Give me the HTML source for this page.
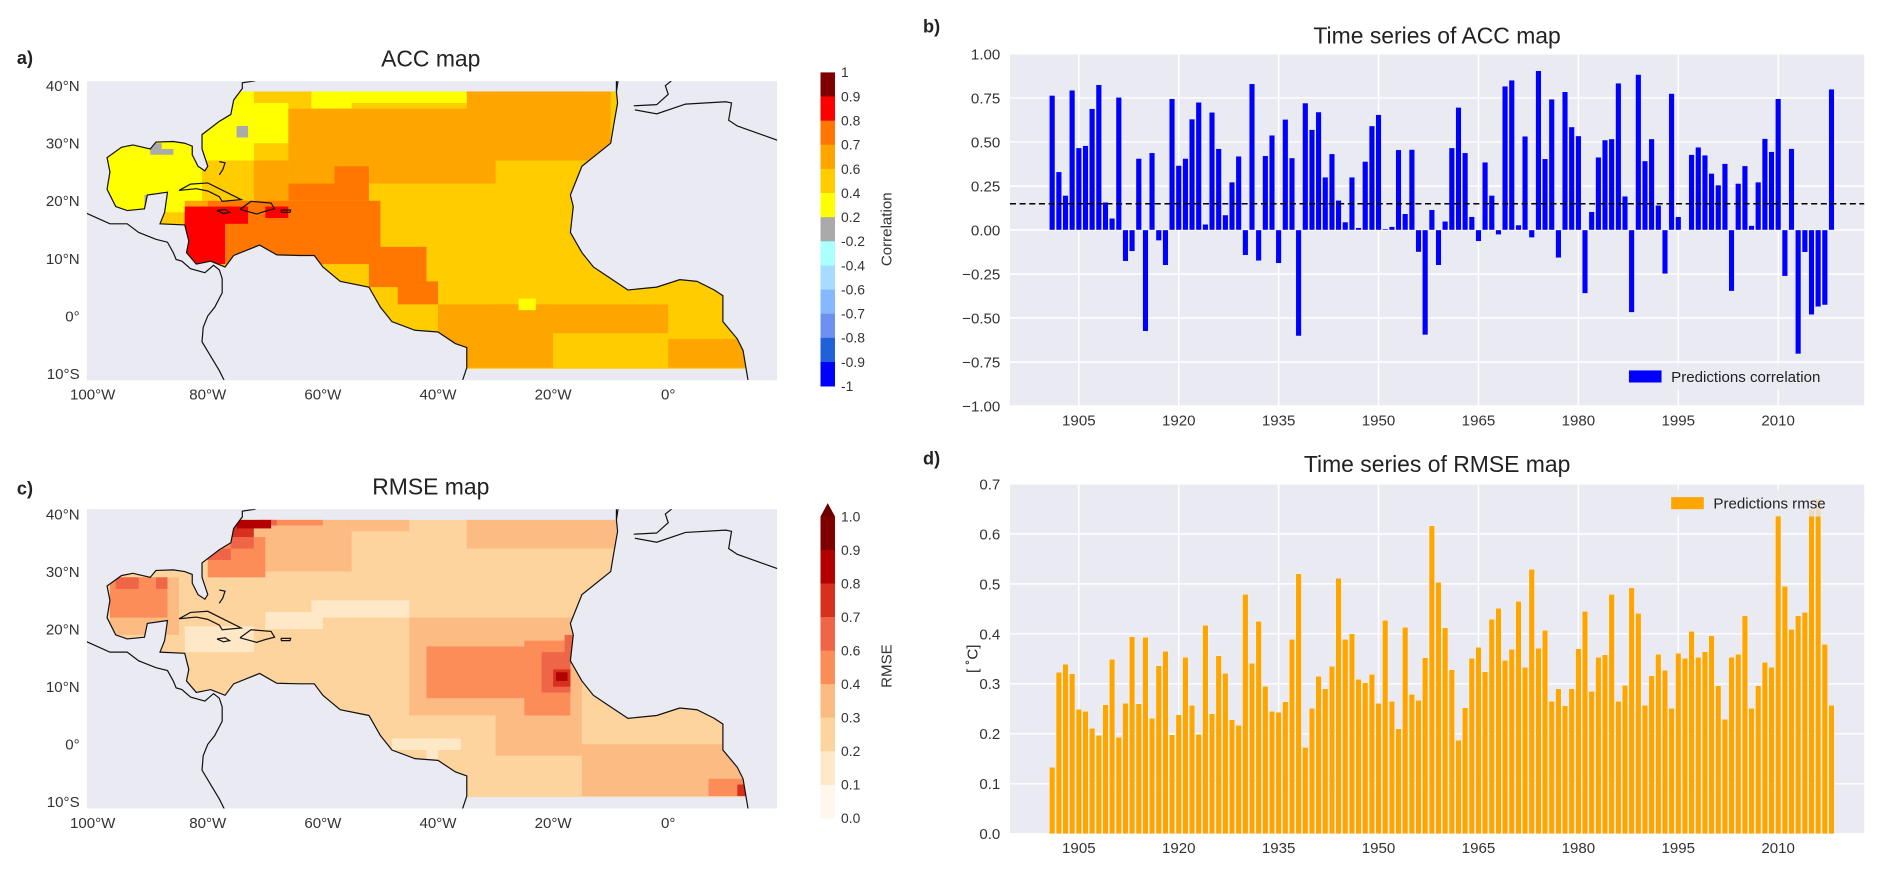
<!DOCTYPE html>
<html><head><meta charset="utf-8"><style>
html,body{margin:0;padding:0;background:#fff;}
svg{display:block;font-family:"Liberation Sans",sans-serif;}
</style></head><body>
<svg id="fig" width="1892" height="873" viewBox="0 0 1568 723.5" preserveAspectRatio="none" xmlns="http://www.w3.org/2000/svg">
<defs>
<clipPath id="clipA"><rect x="72" y="67.2" width="572" height="247.6"/></clipPath>
<clipPath id="clipC"><rect x="72" y="422" width="572" height="248"/></clipPath>
</defs>
<g id="mapA"></g>
<g id="mapC"></g>
<g id="chartB"></g>
<g id="chartD"></g>
<text x="14" y="53" font-size="15" font-weight="bold" fill="#222">a)</text>
<text x="765" y="27" font-size="15" font-weight="bold" fill="#222">b)</text>
<text x="14" y="410" font-size="15" font-weight="bold" fill="#222">c)</text>
<text x="765" y="385" font-size="15" font-weight="bold" fill="#222">d)</text>
<text x="357" y="55" font-size="19" text-anchor="middle" fill="#222">ACC map</text>
<text x="357" y="410" font-size="19" text-anchor="middle" fill="#222">RMSE map</text>
<text x="1191" y="36" font-size="19" text-anchor="middle" fill="#222">Time series of ACC map</text>
<text x="1191" y="391" font-size="19" text-anchor="middle" fill="#222">Time series of RMSE map</text>
</svg>
<script>
// ---------- chart data ----------
const startYear = 1901;
const accValues = [0.764,0.33,0.196,0.794,0.466,0.479,0.689,0.825,0.157,0.066,
0.753,-0.177,-0.121,0.406,-0.575,0.438,-0.06,-0.2,0.745,0.366,
0.406,0.63,0.725,0.032,0.668,0.462,0.085,0.272,0.419,-0.143,
0.83,-0.175,0.421,0.538,-0.189,0.628,0.409,-0.602,0.721,0.57,
0.67,0.3,0.432,0.168,0.045,0.3,0.013,0.389,0.591,0.655,
0.006,0.019,0.455,0.092,0.457,-0.125,-0.596,0.115,-0.2,0.049,
0.466,0.696,0.438,0.075,-0.064,0.385,0.196,-0.026,0.817,0.851,
0.028,0.532,-0.043,0.904,0.404,0.743,-0.158,0.785,0.585,0.534,
-0.36,0.104,0.413,0.511,0.517,0.834,0.192,-0.468,0.883,0.392,
0.517,0.14,-0.249,0.775,0.075,-0.002,0.428,0.47,0.425,0.321,
0.255,0.377,-0.347,0.264,0.364,0.025,0.272,0.519,0.445,0.745,
-0.262,0.462,-0.704,-0.126,-0.481,-0.436,-0.426,0.8];
const accThreshold = 0.149;
const rmseValues = [0.133,0.323,0.339,0.32,0.249,0.245,0.211,0.197,0.258,0.349,
0.193,0.261,0.394,0.26,0.393,0.231,0.336,0.365,0.198,0.238,
0.353,0.257,0.199,0.417,0.24,0.356,0.321,0.228,0.217,0.479,
0.341,0.425,0.295,0.245,0.243,0.264,0.389,0.52,0.173,0.251,
0.315,0.29,0.335,0.511,0.389,0.4,0.309,0.302,0.319,0.261,
0.427,0.265,0.21,0.413,0.279,0.267,0.352,0.616,0.503,0.412,
0.328,0.187,0.252,0.351,0.373,0.324,0.429,0.451,0.347,0.369,
0.465,0.333,0.529,0.371,0.407,0.265,0.29,0.256,0.29,0.37,
0.445,0.285,0.353,0.358,0.479,0.265,0.297,0.492,0.441,0.257,
0.316,0.359,0.327,0.251,0.361,0.351,0.405,0.353,0.364,0.396,
0.296,0.229,0.353,0.359,0.436,0.251,0.296,0.343,0.333,0.637,
0.495,0.409,0.436,0.443,0.649,0.67,0.379,0.257];
const yearTicks = [1905,1920,1935,1950,1965,1980,1995,2010];
const accTicks = [1.0,0.75,0.5,0.25,0.0,-0.25,-0.5,-0.75,-1.0];
const accTickLabels = ["1.00","0.75","0.50","0.25","0.00","\u22120.25","\u22120.50","\u22120.75","\u22121.00"];
const rmseTicks = [0,0.1,0.2,0.3,0.4,0.5,0.6,0.7];
const rmseTickLabels = ["0.0","0.1","0.2","0.3","0.4","0.5","0.6","0.7"];
const accCbarLabels = ["1","0.9","0.8","0.7","0.6","0.4","0.2","-0.2","-0.4","-0.6","-0.7","-0.8","-0.9","-1"];
const accCbarColors = ["#7f0000","#ff0000","#ff7700","#ffa500","#ffcc00","#ffff00","#aaaaaa","#aaffff","#a6dcff","#86b8ff","#6e90f0","#2060d8","#0000ff"];
const rmseCbarLabels = ["1.0","0.9","0.8","0.7","0.6","0.4","0.3","0.2","0.1","0.0"];
const rmseCbarColors = ["#7f0000","#b30000","#d7301f","#ef6548","#fc8d59","#fdbb84","#fdd49e","#fee8c8","#fff7ec"];

const NS="http://www.w3.org/2000/svg";
function mk(tag, attrs, parent){const e=document.createElementNS(NS,tag);for(const k in attrs)e.setAttribute(k,attrs[k]);parent.appendChild(e);return e;}

// ---------- bar charts ----------
const X0=837, X1=1545;
function xYear(y){return 872+(y-startYear)*5.52;}
function drawChart(g, top, bottom, ymin, ymax, vals, color, ticks, tickLabels, legendText, legendPos){
  const yS=v=>bottom-(v-ymin)/(ymax-ymin)*(bottom-top);
  const bg=mk('rect',{x:X0,y:top,width:X1-X0,height:bottom-top,fill:'#eaeaf2'},g);
  
  
  ticks.forEach((t,i)=>{
    const l=mk('line',{x1:X0,x2:X1,y1:yS(t),y2:yS(t),stroke:'#fff','stroke-width':1.2},g);
    
    
    const tx=mk('text',{x:X0-8,y:yS(t)+4.5,'font-size':12.5,'text-anchor':'end',fill:'#333'},g);
    tx.textContent=tickLabels[i];
    
    
  });
  yearTicks.forEach(yr=>{
    const l=mk('line',{x1:xYear(yr),x2:xYear(yr),y1:top,y2:bottom,stroke:'#fff','stroke-width':1.2},g);
    
    
    const tx=mk('text',{x:xYear(yr),y:bottom+16,'font-size':12.5,'text-anchor':'middle',fill:'#333'},g);
    tx.textContent=String(yr);
    
    
  });
  const y0=yS(Math.max(0,ymin));
  vals.forEach((v,i)=>{
    const x=xYear(startYear+i);
    const r=mk('rect',{x:x-2.3,y:Math.min(y0,yS(v)),width:4.6,height:Math.abs(yS(v)-y0),fill:color,stroke:'#fff','stroke-width':0.3},g);
    
    
  });
  // legend
  const lg=mk('g',{},g);
  
  
  mk('rect',{x:legendPos[0],y:legendPos[1],width:legendPos[2],height:22,fill:'#eaeaf2','fill-opacity':0.8,rx:3},lg);
  mk('rect',{x:legendPos[0]+7,y:legendPos[1]+6,width:27,height:10,fill:color},lg);
  const lt=mk('text',{x:legendPos[0]+42,y:legendPos[1]+15.5,'font-size':12.5,fill:'#222'},lg);
  lt.textContent=legendText;
  return yS;
}
const gB=document.getElementById('chartB');
const yB=drawChart(gB,44.7,336.5,-1,1,accValues,'#0000ff',accTicks,accTickLabels,'Predictions correlation',[1343,301,200]);
const th=mk('line',{x1:X0,x2:X1,y1:yB(accThreshold),y2:yB(accThreshold),stroke:'#000','stroke-width':1.3,'stroke-dasharray':'5,3'},gB);


const gD=document.getElementById('chartD');
drawChart(gD,401,691,0,0.7,rmseValues,'#ffa500',rmseTicks,rmseTickLabels,'Predictions rmse',[1378,406,167]);
const yl=mk('text',{x:0,y:0,'font-size':12.5,fill:'#222','text-anchor':'middle',transform:'translate(810,546) rotate(-90)'},gD);
yl.textContent='[ \u02daC]';



// ---------- maps ----------
const ocean=[[-97.5,27.5],[-97,25],[-97.5,22],[-96,19],[-94,18.3],[-91,18.6],[-90.5,21],[-87,21.5],[-87.5,18],[-88.3,16],[-84,15.8],[-83.3,13],[-83.7,11],[-82,9],[-79.5,9.5],[-77,8.5],[-75.5,10.5],[-73,11.5],[-71,12.3],[-68,10.6],[-64,10.5],[-61.5,10.5],[-60,8.5],[-57,6],[-52,5],[-50,1.5],[-48,-1],[-44,-2.5],[-40,-2.8],[-37,-4.8],[-35,-5.5],[-35,-9],[-36,-12],[14,-12],[13,-6],[12,-4],[9.5,-1],[9.5,3.5],[8,4.5],[5,6],[2,6.3],[-2,5],[-7,4.5],[-10,6.5],[-13,8.5],[-15,11],[-17,14.5],[-16.5,19],[-17,21],[-15,26],[-10,30],[-9.5,33],[-8.8,37],[-9,39],[-9,42],[-70,42],[-70,41.5],[-72,40.8],[-74,40.5],[-74,39.5],[-75.5,37.5],[-76,35],[-78,33.8],[-81,31.5],[-81,29],[-80,26],[-80.5,25.2],[-81.7,26],[-82.7,28],[-82.7,29.5],[-84,30],[-86,30.3],[-89,30.2],[-90,29],[-93,29.7],[-95,29.3]];
const extraCoasts=[
[[-101,17.8],[-97,16],[-94,16],[-92,14.5],[-89,13.3],[-87,12.8],[-86,11],[-85.5,9.8],[-84.5,9.5],[-83,8.2],[-80.5,7.5],[-79,8.8],[-78,8],[-77.5,6.5],[-77.5,4],[-78.8,1.5],[-80,0],[-80.8,-2],[-81,-4.5],[-79.5,-7],[-78,-9.5],[-77,-11.5]],
[[-72,40.8],[-70,41.7],[-70,43]],
[[-85,21.8],[-83,22.9],[-80,23.1],[-77,21.6],[-74.2,20.2],[-77.5,19.9],[-78,20.7],[-80,21.7],[-82,22.1],[-85,21.8]],
[[-74.4,18.5],[-72.5,19.9],[-69,19.6],[-68.4,18.6],[-70,18.2],[-71.5,17.7],[-74.4,18.5]],
[[-78.4,18.3],[-77,18.5],[-76.2,18],[-77.3,17.8],[-78.4,18.3]],
[[-67.3,18.4],[-65.6,18.4],[-65.7,18],[-67.2,18],[-67.3,18.4]],
[[-78,26.8],[-77,26.6],[-77.4,25.4],[-78,24.5]],
[[-9,39],[-8.7,41],[-8.8,42]],
[[-6,36.5],[-2,36.7],[0,38.5],[-0.5,40],[1,41.2]],
[[-5.8,35.8],[-2,35.1],[3,36.8],[10,37.2],[11,37],[10.5,34],[12,33],[19,30.5]]
];
const accZones=[
['#ffff00',-98,-81,18,31],['#ffff00',-82,-72,27,39],['#ffff00',-72,-66,30,37],['#ffff00',-62,-55,36,39],['#ffff00',-55,-35,37,39],
['#ffa500',-66,-30,23,36],['#ffa500',-30,-10,27,39],['#ffa500',-35,-14,33,39],['#ffa500',-84,-80,16,20],['#ffa500',-40,-20,-9,2],['#ffa500',-30,0,-3,2],['#ffa500',0,14,-9,-4],['#ffa500',-72,-66,20,27],
['#ff7700',-80,-50,9,20],['#ff7700',-66,-52,20,23],['#ff7700',-52,-42,5,12],['#ff7700',-47,-40,2,6],['#ff7700',-58,-52,23,26],
['#ff0000',-84,-77,9,18],['#ff0000',-84,-73,16,19],['#ff0000',-70,-66,17,19],
['#aaaaaa',-90,-88,28,30],['#aaaaaa',-88,-86,28,29],['#aaaaaa',-91,-89,19,21],['#aaaaaa',-75,-73,31,33],
['#ffff00',-26,-23,1,3],['#ffff00',-14,-12,18,20]
];
const rmseZones=[
['#fdbb84',-76,-55,30,39],['#fdbb84',-55,-45,37,39],['#fdbb84',-35,-9,34,39],['#fdbb84',-45,-15,5,22],['#fdbb84',-30,-15,-2,5],['#fdbb84',-15,14,-9,0],['#fdbb84',-97,-85,19,29],
['#fc8d59',-97,-87,22,29],['#fc8d59',-80,-70,29,36],['#fc8d59',-72,-60,38,39],['#fc8d59',-42,-20,8,17],['#fc8d59',-25,-17,5,18],['#fc8d59',7,14,-9,-6],
['#ef6548',-96,-92,27,29],['#ef6548',-89,-87,27,29],['#ef6548',-80,-76,32,34],['#ef6548',-76,-72,34,36],['#ef6548',-71,-68,38,39],['#ef6548',-22,-17,9,16],['#ef6548',-18,-16,14,19],
['#d7301f',-76,-72,36,38],['#d7301f',-20,-17,10,13],['#d7301f',12,14,-9,-7],
['#b30000',-75,-69,37.5,39],['#b30000',-19.5,-17.5,11,12.5],
['#fee8c8',-84,-72,16,20.5],['#fee8c8',-70,-60,20,23],['#fee8c8',-62,-45,22,25],['#fee8c8',-48,-36,-1,1],['#fee8c8',-42,-40,-4,-1]
];
function drawMap(g, top40, clipId, frameTop, baseColor, zones, cbarColors, cbarLabels, cbarTop, cbarStep, cbarTitle, cbarTitleY, arrow){
  const P=(lon,lat)=>[76.8+(lon+100)*4.77, top40+(40-lat)*4.77];
  const pts=ocean.map(p=>P(p[0],p[1]).join(',')).join(' ');
  const bg=mk('rect',{x:72,y:frameTop,width:572,height:248,fill:'#eaeaf2'},g);
  
  
  const cid=clipId+'o';
  const cp=mk('clipPath',{id:cid},g);
  const a=P(-101,39), b=P(20,-9.2);
  mk('polygon',{points:pts},cp);
  const dg=mk('g',{'clip-path':'url(#'+cid+')'},g);
  const dg2=mk('g',{},dg);
  const cp2=mk('clipPath',{id:cid+'r'},g);
  mk('rect',{x:a[0],y:a[1],width:b[0]-a[0],height:b[1]-a[1]},cp2);
  dg2.setAttribute('clip-path','url(#'+cid+'r)');
  mk('rect',{x:a[0],y:a[1],width:b[0]-a[0],height:b[1]-a[1],fill:baseColor},dg2);
  zones.forEach(z=>{
    const p1=P(z[1],z[4]), p2=P(z[2],z[3]);
    const r=mk('rect',{x:p1[0],y:p1[1],width:p2[0]-p1[0],height:p2[1]-p1[1],fill:z[0]},dg2);
    
    
  });
  const cg=mk('g',{'clip-path':'url(#'+clipId+')'},g);
  
  
  mk('polygon',{points:pts,fill:'none',stroke:'#111','stroke-width':1},cg);
  extraCoasts.forEach(c=>{mk('polyline',{points:c.map(p=>P(p[0],p[1]).join(',')).join(' '),fill:'none',stroke:'#111','stroke-width':1},cg);});
  // tick labels
  const latL=[[40,'40°N'],[30,'30°N'],[20,'20°N'],[10,'10°N'],[0,'0°'],[-10,'10°S']];
  latL.forEach(l=>{const t=mk('text',{x:66,y:P(0,l[0])[1]+4.5,'font-size':12.5,'text-anchor':'end',fill:'#333'},g);t.textContent=l[1];
    
    });
  const lonL=[[-100,'100°W'],[-80,'80°W'],[-60,'60°W'],[-40,'40°W'],[-20,'20°W'],[0,'0°']];
  lonL.forEach(l=>{const t=mk('text',{x:P(l[0],0)[0],y:frameTop+264,'font-size':12.5,'text-anchor':'middle',fill:'#333'},g);t.textContent=l[1];
    
    });
  // colorbar
  const cb=mk('g',{},g);
  
  
  cbarColors.forEach((c,i)=>{mk('rect',{x:680,y:cbarTop+i*cbarStep,width:12,height:cbarStep+0.3,fill:c},cb);});
  if(arrow){mk('polygon',{points:`680,${cbarTop} 692,${cbarTop} 686,${cbarTop-11}`,fill:'#6a0000'},cb);}
  cbarLabels.forEach((l,i)=>{const t=mk('text',{x:697,y:cbarTop+i*cbarStep+4,'font-size':11.5,fill:'#333'},cb);t.textContent=l;});
  const tt=mk('text',{x:0,y:0,'font-size':12.5,fill:'#333','text-anchor':'middle',transform:`translate(739,${cbarTitleY}) rotate(-90)`},cb);
  tt.textContent=cbarTitle;
}
drawMap(document.getElementById('mapA'),71,'clipA',67.2,'#ffcc00',accZones,accCbarColors,accCbarLabels,60,20,'Correlation',190,false);
drawMap(document.getElementById('mapC'),426,'clipC',422,'#fdd49e',rmseZones,rmseCbarColors,rmseCbarLabels,428,27.8,'RMSE',552,true);
</script>
</body></html>
